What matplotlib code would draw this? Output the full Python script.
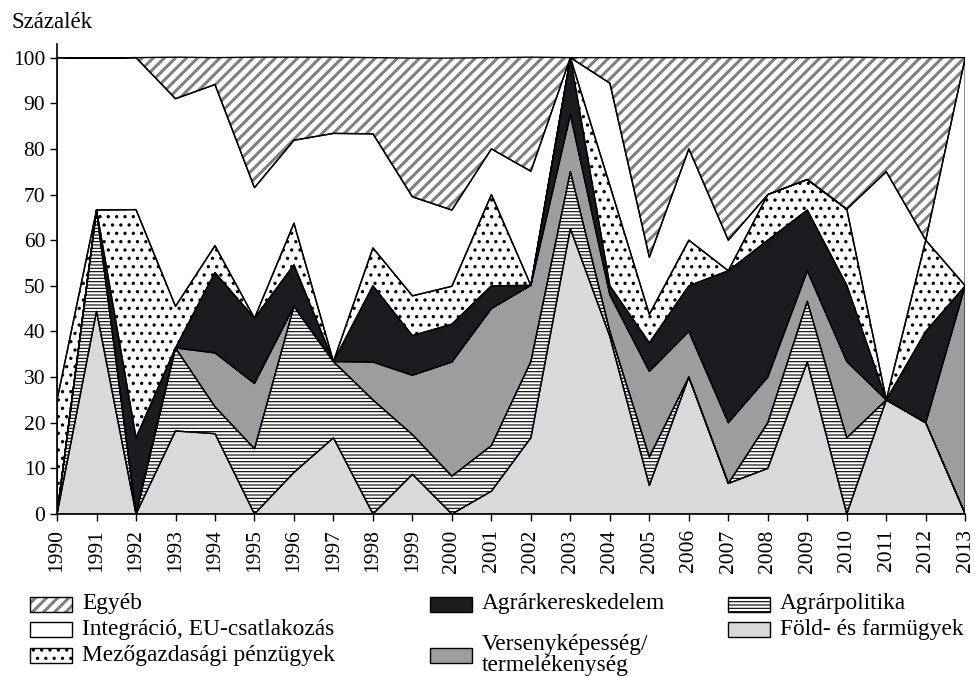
import numpy as np
import matplotlib
matplotlib.use("Agg")
import matplotlib.pyplot as plt
from matplotlib.patches import Rectangle

plt.rc('font', family=['Liberation Serif', 'DejaVu Serif'])

#--------------------------------------------------
# data (percent), 1990-2013
years = list(range(1990, 2014))

fold     = [0, 44.4, 0, 18.2, 17.6, 0, 9.1, 16.7, 0, 8.7, 0, 5, 16.7, 62.5,
            38.9, 6.25, 30, 6.7, 10, 33.3, 0, 25, 20, 0]
agrpol   = [0, 22.2, 0, 18.2, 5.9, 14.3, 36.4, 16.7, 25, 8.7, 8.3, 10, 16.7, 12.5,
            1.1, 6.25, 0, 0, 10, 13.3, 16.7, 0, 0, 0]
versen   = [0, 0, 0, 0, 11.8, 14.3, 0, 0, 8.3, 13.0, 25, 30, 16.7, 12.5,
            8, 18.75, 10, 13.3, 10, 6.7, 16.7, 0, 0, 50]
keresk   = [0, 0, 16.7, 0, 17.6, 14.3, 9.1, 0, 16.7, 8.7, 8.3, 5, 0, 12.5,
            2, 6.25, 10, 33.3, 30, 13.3, 16.7, 0, 20, 0]
penz     = [25, 0, 50, 9.1, 5.9, 0, 9.1, 0, 8.3, 8.7, 8.3, 20, 0, 0,
            22, 6.25, 10, 0, 10, 6.7, 16.7, 0, 20, 0]
integr   = [75, 33.3, 33.3, 45.5, 35.3, 28.6, 18.2, 50, 25, 21.7, 16.7, 10, 25, 0,
            22.4, 12.5, 20, 6.7, 0, 0, 0, 50, 0, 50]
egyeb    = [0, 0, 0, 9.1, 5.9, 28.6, 18.2, 16.7, 16.7, 30.4, 33.3, 20, 25, 0,
            5.6, 43.75, 20, 40, 30, 26.7, 33.3, 25, 40, 0]

labels = ["Egyéb", "Integráció, EU-csatlakozás", "Mezőgazdasági pénzügyek",
          "Agrárkereskedelem", "Versenyképesség/\ntermelékenység",
          "Agrárpolitika", "Föld- és farmügyek"]

# bottom -> top
series = [fold, agrpol, versen, keresk, penz, integr, egyeb]
# (facecolor, hatch, hatchcolor, hatch linewidth)
styles = [
    ('#d9d9db', None,    None,      1.0),
    ('white',   '-----', 'black',   0.8),
    ('#9d9d9f', None,    None,      1.0),
    ('#1c1b1f', None,    None,      1.0),
    ('white',   '..',    'black',   1.2),
    ('white',   None,    None,      1.0),
    ('white',   '///',   '#808080', 2.2),
]

#--------------------------------------------------
fig = plt.figure(1, figsize=(9.75, 6.76), dpi=100)
ax = fig.add_axes([0.0585, 0.2396, 0.9315, 0.6954])

x = np.array(years)
bottom = np.zeros(len(years))
for vals, (fc, hatch, hc, hlw) in zip(series, styles):
    top = bottom + np.array(vals)
    if hatch is not None:
        with plt.rc_context({'hatch.linewidth': hlw}):
            ax.fill_between(x, bottom, top, facecolor=fc, edgecolor=hc,
                            hatch=hatch, lw=0, zorder=2)
    else:
        ax.fill_between(x, bottom, top, facecolor=fc, lw=0, zorder=2)
    ax.fill_between(x, bottom, top, facecolor='none', edgecolor='black',
                    lw=1.0, zorder=3)
    bottom = top

ax.set_xlim(1990, 2013)
ax.set_ylim(0, 103)
ax.set_xticks(years)
ax.set_xticklabels([str(y) for y in years], rotation=90)
ax.set_yticks(np.arange(0, 101, 10))

for s in ['top', 'right']:
    ax.spines[s].set_visible(False)
for s in ['left', 'bottom']:
    ax.spines[s].set_linewidth(1.2)
ax.tick_params(direction='out', length=5, width=1.0, labelsize=15.5)
ax.tick_params(axis='x', pad=6)

fig.text(0.012, 0.967, "Százalék", fontsize=16.5, va='center', ha='left')

#--------------------------------------------------
# legend (drawn by hand, three columns)
W, H = 975.0, 676.0
leg_items = [
    # label index, column x (px), row y (px), style index
    (0, 30, 604, 6),
    (1, 30, 629, 5),
    (2, 30, 655, 4),
    (3, 430, 604, 3),
    (4, 430, 655, 2),
    (5, 728, 604, 1),
    (6, 728, 629, 0),
]
hw, hh = 42, 15
for li, px, py, si in leg_items:
    fc, hatch, hc, hlw = styles[si]
    x0, y0 = px / W, 1 - (py + hh / 2) / H
    if hatch is not None:
        with plt.rc_context({'hatch.linewidth': hlw}):
            fig.add_artist(Rectangle((x0, y0), hw / W, hh / H, transform=fig.transFigure,
                                     facecolor=fc, edgecolor=hc, hatch=hatch, lw=0))
    else:
        fig.add_artist(Rectangle((x0, y0), hw / W, hh / H, transform=fig.transFigure,
                                 facecolor=fc, lw=0))
    fig.add_artist(Rectangle((x0, y0), hw / W, hh / H, transform=fig.transFigure,
                             facecolor='none', edgecolor='black', lw=1.0))
    fig.text((px + hw + 10) / W, 1 - py / H, labels[li], fontsize=16.8,
             va='center', ha='left', linespacing=1.0)

plt.savefig('out.png', dpi=100)
